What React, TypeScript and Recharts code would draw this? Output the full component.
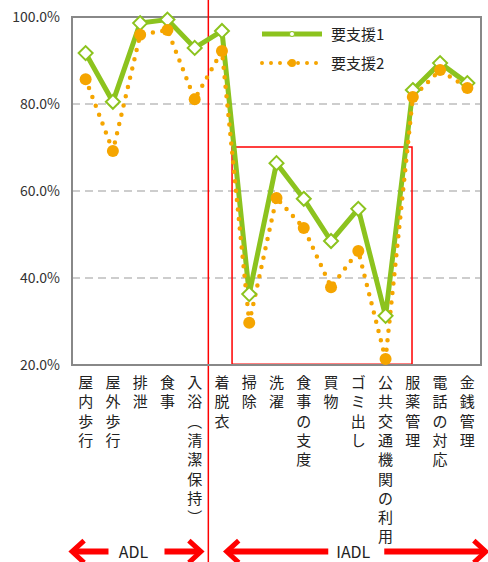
import React from 'react';
import { LineChart, Line, XAxis, YAxis, CartesianGrid, ReferenceLine, ReferenceArea, Legend } from 'recharts';

const categories = [
  '屋内歩行', '屋外歩行', '排泄', '食事', '入浴（清潔保持）',
  '着脱衣', '掃除', '洗濯', '食事の支度', '買物',
  'ゴミ出し', '公共交通機関の利用', '服薬管理', '電話の対応', '金銭管理',
];
const support1 = [91.7, 80.5, 98.6, 99.4, 92.9, 96.8, 36.3, 66.4, 58.2, 48.5, 55.9, 31.3, 83.2, 89.4, 84.8];
const support2 = [85.7, 69.2, 95.9, 97.0, 81.1, 92.2, 29.7, 58.4, 51.5, 37.9, 46.2, 21.4, 81.6, 87.8, 83.7];
const yTicks = [20, 40, 60, 80, 100];
const seriesNames = ['要支援1', '要支援2'];

const GREEN = '#8cc31e';
const ORANGE = '#f5a500';
const RED = '#ff0000';
const FONT = '"Noto Sans CJK JP", "Noto Sans", sans-serif';

const data = categories.map((name, i) => ({
  pos: i + 0.5,
  name,
  s1: support1[i],
  s2: support2[i],
}));

// vertical forms for brackets
const toVertical = (ch: string) => (ch === '（' ? '︵' : ch === '）' ? '︶' : ch);

const VerticalTick = (props: any) => {
  const { x, y, payload } = props;
  const label = categories[Math.floor(payload.value)] || '';
  const chars = Array.from(label);
  return (
    <text x={x} y={y} textAnchor="middle" fontSize={15} fill="#222" fontFamily={FONT}>
      {chars.map((c, i) => (
        <tspan key={i} x={x} dy={i === 0 ? 15 : 19.3}>
          {toVertical(c)}
        </tspan>
      ))}
    </text>
  );
};

const Diamond = (props: any) => {
  const { cx, cy } = props;
  if (cx == null || cy == null) return null;
  const r = 7;
  return (
    <path
      d={`M${cx},${cy - r}L${cx + r},${cy}L${cx},${cy + r}L${cx - r},${cy}Z`}
      fill="#fff"
      stroke={GREEN}
      strokeWidth={2}
    />
  );
};

const OrangeDot = (props: any) => {
  const { cx, cy } = props;
  if (cx == null || cy == null) return null;
  return <circle cx={cx} cy={cy} r={6} fill={ORANGE} />;
};

// double headed arrow with a text in the gap
const makeArrow = (text: string) => (props: any) => {
  const { x1, x2, y1 } = props;
  const mid = (x1 + x2) / 2;
  const gap = 28;
  const head = 14;
  return (
    <g>
      <path d={`M${x1 + head},${y1 - 11}L${x1 + 2},${y1}L${x1 + head},${y1 + 11}`} fill="none" stroke={RED} strokeWidth={5} />
      <line x1={x1 + 3} y1={y1} x2={mid - gap} y2={y1} stroke={RED} strokeWidth={6} />
      <line x1={mid + gap} y1={y1} x2={x2 - 3} y2={y1} stroke={RED} strokeWidth={6} />
      <path d={`M${x2 - head},${y1 - 11}L${x2 - 2},${y1}L${x2 - head},${y1 + 11}`} fill="none" stroke={RED} strokeWidth={5} />
      <text x={mid - 3} y={y1 + 6} textAnchor="middle" fontSize={16} fill="#222" fontFamily={FONT}>
        {text}
      </text>
    </g>
  );
};

const renderLegend = () => (
  <div style={{ fontFamily: FONT, fontSize: 15, color: '#222' }}>
    <div style={{ display: 'flex', alignItems: 'center', height: 29 }}>
      <svg width={66} height={14}>
        <line x1={4} y1={7} x2={64} y2={7} stroke={GREEN} strokeWidth={5} />
        <circle cx={34} cy={7} r={2.5} fill="#fff" stroke={GREEN} strokeWidth={1} />
      </svg>
      <span style={{ marginLeft: 7 }}>{seriesNames[0]}</span>
    </div>
    <div style={{ display: 'flex', alignItems: 'center', height: 29 }}>
      <svg width={66} height={14}>
        <line x1={4} y1={7} x2={64} y2={7} stroke={ORANGE} strokeWidth={4} strokeDasharray="0 9" strokeLinecap="round" />
        <circle cx={34} cy={7} r={4} fill={ORANGE} />
      </svg>
      <span style={{ marginLeft: 7 }}>{seriesNames[1]}</span>
    </div>
  </div>
);

export default function App() {
  return (
    <div style={{ position: 'absolute', left: 0, top: 0, background: '#fff' }}>
      <LineChart width={488} height={562} data={data} margin={{ top: 17, right: 7, left: 0, bottom: 0 }}>
        <CartesianGrid vertical={false} stroke="#bdbdbd" strokeDasharray="8 5" strokeWidth={1.5} />
        <XAxis
          dataKey="pos"
          type="number"
          domain={[0, 15]}
          ticks={data.map((d) => d.pos)}
          interval={0}
          tick={<VerticalTick />}
          tickLine={false}
          axisLine={{ stroke: '#888', strokeWidth: 2 }}
          height={197}
        />
        <YAxis
          domain={[20, 100]}
          ticks={yTicks}
          tickFormatter={(v: number) => `${v.toFixed(1)}%`}
          tick={{ fontSize: 14, fill: '#333', fontFamily: FONT }}
          tickLine={false}
          axisLine={{ stroke: '#888', strokeWidth: 2 }}
          width={72}
          tickMargin={6}
        />
        <ReferenceArea x1={0} x2={15} y1={20} y2={100} fill="none" stroke="#888" strokeWidth={2} />
        <ReferenceArea x1={5.87} x2={12.47} y1={20.2} y2={70.1} fill="none" stroke={RED} strokeWidth={1.5} />
        <ReferenceLine
          segment={[{ x: 5, y: 104 }, { x: 5, y: -26 }]}
          stroke={RED}
          strokeWidth={1.5}
          ifOverflow="visible"
        />
        <ReferenceLine
          segment={[{ x: -0.07, y: -22.9 }, { x: 4.8, y: -22.9 }]}
          ifOverflow="visible"
          shape={makeArrow('ADL')}
        />
        <ReferenceLine
          segment={[{ x: 5.6, y: -22.9 }, { x: 15.25, y: -22.9 }]}
          ifOverflow="visible"
          shape={makeArrow('IADL')}
        />
        <Legend
          content={renderLegend}
          layout="horizontal"
          verticalAlign="middle"
          wrapperStyle={{ top: 19, left: 258, width: 170 }}
        />
        <Line
          name={seriesNames[0]}
          dataKey="s1"
          stroke={GREEN}
          strokeWidth={5}
          dot={<Diamond />}
          isAnimationActive={false}
        />
        <Line
          name={seriesNames[1]}
          dataKey="s2"
          stroke={ORANGE}
          strokeWidth={4.5}
          strokeDasharray="0 9.5"
          strokeLinecap="round"
          dot={<OrangeDot />}
          isAnimationActive={false}
        />
      </LineChart>
    </div>
  );
}
